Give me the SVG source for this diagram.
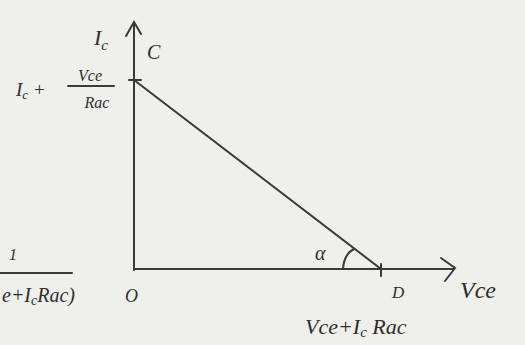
<svg xmlns="http://www.w3.org/2000/svg" width="525" height="345" viewBox="0 0 525 345">
<style>
.ln{stroke:#3a3a3a;stroke-width:2;fill:none;stroke-linecap:round}
.t{font-family:"Liberation Serif",serif;font-style:italic;fill:#2e2e2e}
</style>
<rect width="525" height="345" fill="#efefec"/>
<g id="axes">
<path class="ln" d="M134 270 V24"/>
<path class="ln" d="M126 36 L134 22 L141 34"/>
<path class="ln" d="M134 269 H454"/>
<path class="ln" d="M441 258 L455 268 L445 281"/>
<path class="ln" d="M129 80 H141"/>
<path class="ln" d="M381 264 V276"/>
</g>
<g id="load-line">
<path class="ln" d="M134 80 L381 269"/>
<path class="ln" d="M343 269 Q344 254 354 249"/>
</g>
<g id="labels">
<text class="t" x="94" y="45" font-size="22">I<tspan font-size="15" dy="5">c</tspan></text>
<text class="t" x="147" y="59" font-size="20">C</text>
<text class="t" x="16" y="96" font-size="19">I<tspan font-size="13" dy="3">c</tspan><tspan dy="-3"> +</tspan></text>
<text class="t" x="90" y="81" font-size="16" text-anchor="middle">Vce</text>
<path class="ln" d="M68 86 H114" stroke-width="1.6"/>
<text class="t" x="97" y="108" font-size="16" text-anchor="middle">Rac</text>
<text class="t" x="315" y="260" font-size="20">α</text>
<text class="t" x="125" y="302" font-size="18">O</text>
<text class="t" x="392" y="298" font-size="17">D</text>
<text class="t" x="460" y="298" font-size="24">Vce</text>
<text class="t" x="305" y="334" font-size="22">Vce+I<tspan font-size="15" dy="3">c</tspan><tspan dy="-3"> Rac</tspan></text>
<text class="t" x="9" y="260" font-size="16">1</text>
<path class="ln" d="M-2 273 H72" stroke-width="1.6"/>
<text class="t" x="2" y="302" font-size="20">e+I<tspan font-size="14" dy="3">c</tspan><tspan dy="-3">Rac)</tspan></text>
</g>
</svg>
